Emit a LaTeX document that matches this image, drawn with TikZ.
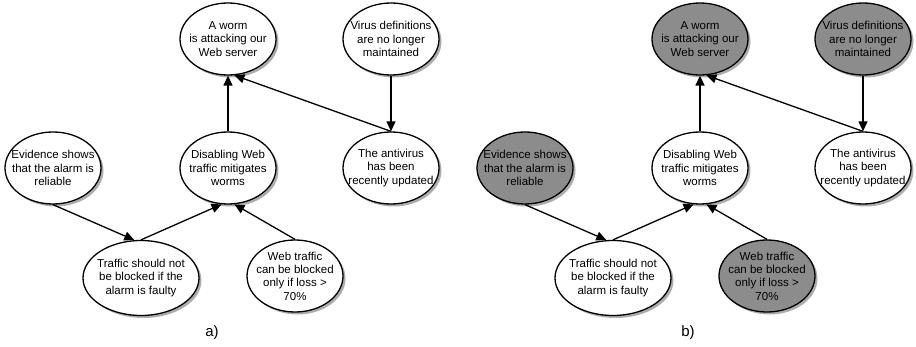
\documentclass[tikz,border=0pt]{standalone}
\usepackage{fontspec}
\setmainfont{Liberation Sans}
\usetikzlibrary{shapes.geometric,shadows,arrows.meta}

\tikzset{
  belief/.style={ellipse, draw=black, line width=1.3pt, fill=white,
    minimum width=96pt, minimum height=72pt,
    inner xsep=-30pt, inner ysep=-22pt, align=center,
    font=\fontsize{11.5}{13.3}\selectfont,
    drop shadow={shadow xshift=2.5pt, shadow yshift=-2.5pt, fill=black!32, opacity=1}},
  widebelief/.style={minimum width=116pt, minimum height=75pt},
  link/.style={line width=1.3pt, -{Triangle[length=10pt,width=9pt]}},
  known/.style={},
  caption/.style={font=\fontsize{15}{18}\selectfont},
}

% One belief network; the style "known" decides how observed beliefs are filled
\newcommand\beliefnet{%
  \node[belief, known] (worm)  at (228,39)  {A worm\\is attacking our\\Web server};
  \node[belief, known] (virus) at (391,39)  {Virus definitions\\are no longer\\maintained};
  \node[belief]        (dis)   at (228,168) {Disabling Web\\traffic mitigates\\worms};
  \node[belief, known] (evid)  at (53,168)  {Evidence shows\\that the alarm is\\reliable};
  \node[belief]        (anti)  at (391,168) {The antivirus\\has been\\recently updated};
  \node[belief, widebelief] (traf) at (141,278) {Traffic should not\\be blocked if the\\alarm is faulty};
  \node[belief, known] (web)   at (295,276) {Web traffic\\can be blocked\\only if loss >\\70\%};
  \draw[link] (dis.north)  -- (worm.south);
  \draw[link] (anti.north) -- (worm.-80);
  \draw[link] (virus.south) -- (anti.north);
  \draw[link] (evid.south) -- (traf.100);
  \draw[link] (traf.north) -- (dis.-100);
  \draw[link] (web.north)  -- (dis.-80);
}

\begin{document}
\begin{tikzpicture}[x=1pt, y=-1pt]
  \useasboundingbox (0,0) rectangle (916,347);
  \begin{scope}[name prefix=a-]
    \beliefnet
    \node[caption] (a-cap) at (212,333) {a)};
  \end{scope}
  \begin{scope}[xshift=472pt, name prefix=b-, known/.style={fill=black!45}]
    \beliefnet
    \node[caption] (b-cap) at (216,333) {b)};
  \end{scope}
\end{tikzpicture}
\end{document}
